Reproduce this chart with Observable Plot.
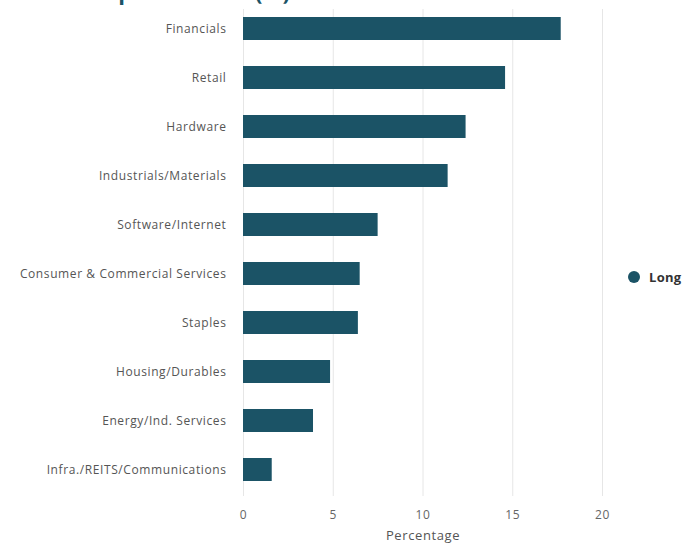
<!DOCTYPE html>
<html>
<head>
<meta charset="utf-8">
<script src="https://cdn.jsdelivr.net/npm/d3@7"></script>
<script src="https://cdn.jsdelivr.net/npm/@observablehq/plot@0.6"></script>
<style>
  html, body { margin: 0; padding: 0; background: #fff; overflow: hidden; }
  #wrap { position: relative; width: 684px; height: 544px; font-family: "Open Sans", sans-serif; }
  #title { position: absolute; left: 92px; top: -20px; font-size: 22px; line-height: 1; font-weight: 700; color: #1b5366; white-space: nowrap; }
  #legend { position: absolute; left: 628px; top: 268px; display: flex; align-items: center; font-size: 13px; font-weight: 700; color: #333; letter-spacing: 0.3px; }
  #legend .dot { width: 12px; height: 12px; border-radius: 50%; background: #1b5366; margin-right: 9px; }
  svg { position: absolute; left: 0; top: 0; }
</style>
</head>
<body>
<div id="wrap">
  <div id="title">Top 10 Sectors (%)</div>
  <div id="legend"><span class="dot"></span><span>Long</span></div>
</div>
<script>
const sectors = [
  "Financials",
  "Retail",
  "Hardware",
  "Industrials/Materials",
  "Software/Internet",
  "Consumer & Commercial Services",
  "Staples",
  "Housing/Durables",
  "Energy/Ind. Services",
  "Infra./REITS/Communications"
];
const longValues = [17.7, 14.6, 12.4, 11.4, 7.5, 6.5, 6.4, 4.85, 3.9, 1.6];
const xTicks = [0, 5, 10, 15, 20];
const seriesName = "Long";
const barColor = "#1b5366";

const data = sectors.map((s, i) => ({sector: s, value: longValues[i], series: seriesName}));

const chart = Plot.plot({
  width: 684,
  height: 544,
  marginLeft: 243,
  marginRight: 82,
  marginTop: 9,
  marginBottom: 48,
  style: {fontFamily: "Open Sans, sans-serif", fontSize: "12px", background: "transparent", letterSpacing: "0.6px"},
  x: {domain: [0, 20], ticks: xTicks, label: null},
  y: {domain: sectors, paddingInner: 0.53, paddingOuter: 0.19, align: 0.33, label: null},
  marks: [
    Plot.ruleX(xTicks, {stroke: "#e6e6e6", strokeWidth: 1}),
    Plot.barX(data, {x: "value", y: "sector", fill: barColor}),
    Plot.axisY({tickSize: 0, tickPadding: 17, fontSize: 12, color: "#555", label: null}),
    Plot.axisX({ticks: xTicks, tickSize: 0, tickPadding: 14, fontSize: 12, color: "#666", label: null}),
    Plot.text(["Percentage"], {frameAnchor: "bottom", dy: 43, fontSize: 13, fill: "#555"})
  ]
});
document.getElementById("wrap").appendChild(chart);
</script>
</body>
</html>
